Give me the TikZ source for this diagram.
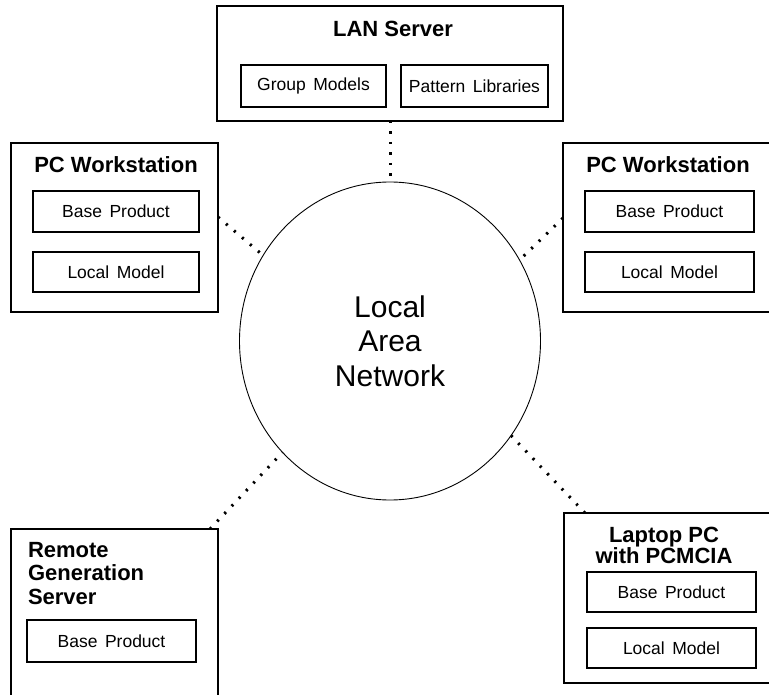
\documentclass[tikz,border=0pt]{standalone}
\usepackage{fontspec}
\setmainfont{Liberation Sans}
\usetikzlibrary{shapes.geometric,calc}
\newcommand{\wsp}{\hspace{7.5pt}}
\begin{document}
\begin{tikzpicture}[x=1pt,y=-1pt,
 box/.style={draw, line width=1.1pt, inner sep=0pt, outer sep=0pt, anchor=north west},
 openbox/.style={inner sep=0pt, outer sep=0pt, anchor=north west},
 inbox/.style={draw, line width=1.1pt, inner sep=0pt, outer sep=0pt, font=\fontsize{17.5}{20}\selectfont},
 title/.style={inner sep=0pt, outer sep=0pt, font=\fontsize{22}{23.5}\selectfont\bfseries},
 link/.style={line width=3pt, dash pattern=on 2.2pt off 8.3pt},
 edge/.style={line width=1.1pt},
]
\useasboundingbox (0,0) rectangle (769,695);

% central network
\node[ellipse, draw, line width=0.9pt, inner sep=0pt, outer sep=0pt,
      minimum width=301pt, minimum height=318pt, align=center,
      font=\fontsize{30}{34.5}\selectfont] (net) at (390,341) {Local\\Area\\Network};

% LAN server
\node[box, minimum width=346pt, minimum height=115pt] (lan) at (217,6) {};
\node[title] (lant) at (393,29) {LAN Server};
\node[inbox, minimum width=145pt, minimum height=42pt] (grp) at (313.5,86) {Group\wsp Models};
\node[inbox, minimum width=147pt, minimum height=42pt] (pat) at (474.5,86) {Pattern\wsp Libraries};

% left PC workstation
\node[box, minimum width=207pt, minimum height=169pt] (pcl) at (11,143) {};
\node[title] (pclt) at (116,165) {PC Workstation};
\node[inbox, minimum width=166pt, minimum height=41pt] (pclb) at (116,211.5) {Base\wsp Product};
\node[inbox, minimum width=166pt, minimum height=40pt] (pcll) at (116,272) {Local\wsp Model};

% right PC workstation (cut at right edge)
\node[openbox, minimum width=206pt, minimum height=169pt] (pcr) at (563,143) {};
\draw[edge] (pcr.north east) -- (pcr.north west) -- (pcr.south west) -- (pcr.south east);
\node[title] (pcrt) at (668,165) {PC Workstation};
\node[inbox, minimum width=169pt, minimum height=41pt] (pcrb) at (669.5,211.5) {Base\wsp Product};
\node[inbox, minimum width=169pt, minimum height=40pt] (pcrl) at (669.5,272) {Local\wsp Model};

% remote generation server (cut at bottom edge)
\node[openbox, minimum width=207pt, minimum height=166pt] (rem) at (11,529) {};
\draw[edge] (rem.south west) -- (rem.north west) -- (rem.north east) -- (rem.south east);
\node[title, anchor=north west, align=left] (remt) at (28,542) {Remote\\Generation\\Server};
\node[inbox, minimum width=169pt, minimum height=42pt] (remb) at (111.5,641) {Base\wsp Product};

% laptop (cut at right edge)
\node[openbox, minimum width=205pt, minimum height=170pt] (lap) at (564,513) {};
\draw[edge] (lap.north east) -- (lap.north west) -- (lap.south west) -- (lap.south east);
\node[title, align=center, font=\fontsize{22}{19}\selectfont\bfseries] (lapt) at (664,545.5) {Laptop PC\\with PCMCIA};
\node[inbox, minimum width=169pt, minimum height=40pt] (lapb) at (671.5,592) {Base\wsp Product};
\node[inbox, minimum width=169pt, minimum height=40pt] (lapl) at (671.5,648) {Local\wsp Model};

% dotted links
\draw[link] (lan.south) -- (net.north);
\draw[link] ($(pcl.north east)+(0,74)$) -- (net.146.5);
\draw[link] ($(pcr.north west)+(0,75)$) -- (net.32.6);
\draw[link] ($(rem.north east)+(-8,0)$) -- (net.226);
\draw[link] ($(lap.north west)+(21,0)$) -- (net.322.5);
\end{tikzpicture}
\end{document}
